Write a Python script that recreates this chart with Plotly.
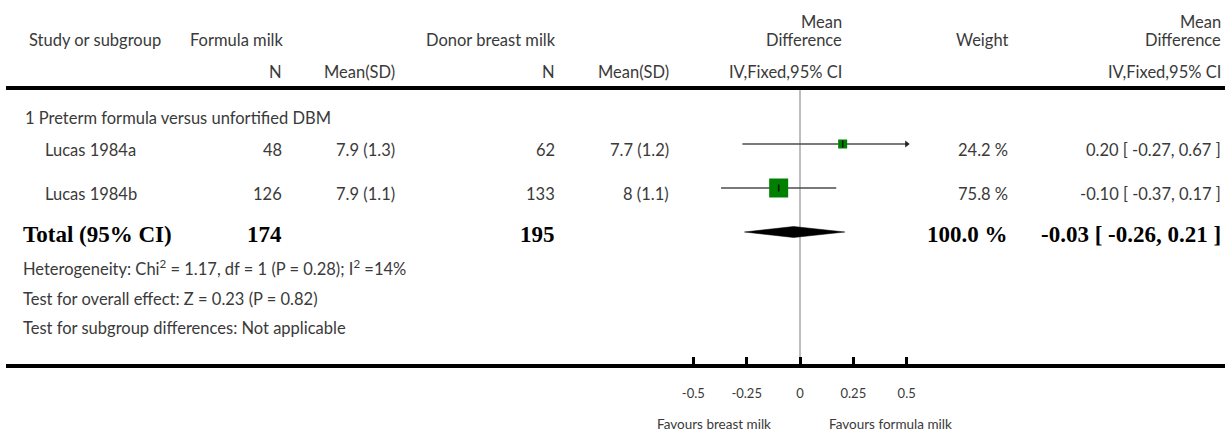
import plotly.graph_objects as go

# ---------------- data ----------------
studies = ["Lucas 1984a", "Lucas 1984b"]
formula_n = [48, 126]
formula_mean = [7.9, 7.9]
formula_sd = [1.3, 1.1]
donor_n = [62, 133]
donor_mean = [7.7, 8]
donor_sd = [1.2, 1.1]
md = [0.20, -0.10]
ci_lo = [-0.27, -0.37]
ci_hi = [0.67, 0.17]
weight = [24.2, 75.8]

total_formula_n = 174
total_donor_n = 195
total_md = -0.03
total_lo = -0.26
total_hi = 0.21
total_weight = 100.0

subgroup_label = "1 Preterm formula versus unfortified DBM"
heterogeneity = "Heterogeneity: Chi<sup>2</sup> = 1.17, df = 1 (P = 0.28); I<sup>2</sup> =14%"
overall_effect = "Test for overall effect: Z = 0.23 (P = 0.82)"
subgroup_diff = "Test for subgroup differences: Not applicable"

tick_vals = [-0.5, -0.25, 0, 0.25, 0.5]
tick_labels = ["-0.5", "-0.25", "0", "0.25", "0.5"]
axis_limit = 0.5
favours_left = "Favours breast milk"
favours_right = "Favours formula milk"

# ---------------- layout constants (pixels) ----------------
W, H = 1229, 432
K = 213.333          # px per unit of mean difference
X0 = 800             # pixel of zero
LINE_L, LINE_R = 6, 1225
AXIS_Y = 364
row_line_y = [144, 188]
row_text_y = [150, 194]
box_sizes = [9, 19]
TXT = "#3a3a3a"
SANS = "Lato"
SERIF = "Liberation Serif"
FS = 16.5
GREEN = "#008000"


def px(x):
    return x / W


def py(y):
    return (H - y) / H


fig = go.Figure()

# CI lines (clipped at axis limit) and arrows
for i in range(len(studies)):
    lo = max(ci_lo[i], -axis_limit)
    hi = min(ci_hi[i], axis_limit)
    fig.add_trace(go.Scatter(x=[lo, hi], y=[row_line_y[i]] * 2, mode="lines",
                             line=dict(color="#4d4d4d", width=1.6), hoverinfo="skip"))
    if ci_hi[i] > axis_limit:
        fig.add_trace(go.Scatter(x=[axis_limit], y=[row_line_y[i]], mode="markers",
                                 marker=dict(symbol="triangle-right", size=6, color="#222"),
                                 hoverinfo="skip"))
    if ci_lo[i] < -axis_limit:
        fig.add_trace(go.Scatter(x=[-axis_limit], y=[row_line_y[i]], mode="markers",
                                 marker=dict(symbol="triangle-left", size=6, color="#222"),
                                 hoverinfo="skip"))

# boxes
fig.add_trace(go.Scatter(x=md, y=row_line_y, mode="markers",
                         marker=dict(symbol="square", size=box_sizes, color=GREEN,
                                     opacity=1, line=dict(width=0)), hoverinfo="skip"))
fig.add_trace(go.Scatter(x=md, y=row_line_y, mode="markers",
                         marker=dict(symbol="line-ns-open", size=5, color="#111",
                                     opacity=1, line=dict(color="#111", width=1.5)),
                         hoverinfo="skip"))

# diamond
DY, DH = 232, 5.5
fig.add_trace(go.Scatter(x=[total_lo, total_md, total_hi, total_md, total_lo],
                         y=[DY, DY - DH, DY, DY + DH, DY], mode="lines", fill="toself",
                         fillcolor="black", line=dict(color="black", width=0.5),
                         hoverinfo="skip"))

shapes = [
    dict(type="line", xref="paper", yref="y", x0=px(LINE_L), x1=px(LINE_R), y0=88, y1=88,
         line=dict(color="black", width=4)),
    dict(type="line", xref="x", yref="y", x0=0, x1=0, y0=88, y1=AXIS_Y,
         line=dict(color="#a8a8a8", width=1.5), layer="below"),
]

ann = []


def T(text, x, y, anchor="left", size=FS, font=SANS, color=TXT, bold=False):
    if bold:
        text = "<b>" + text + "</b>"
    ann.append(dict(text=text, x=px(x), y=py(y), xref="paper", yref="paper", xanchor=anchor,
                    yanchor="middle", showarrow=False,
                    font=dict(family=font, size=size, color=color)))


# header
T("Study or subgroup", 27, 40)
T("Formula milk", 285, 40, "right")
T("Donor breast milk", 558, 40, "right")
T("Weight", 1010, 40, "right")
for xr in (844, 1223):
    T("Mean", xr, 22, "right")
    T("Difference", xr, 40, "right")
    T("IV,Fixed,95% CI", xr, 72, "right")
T("N", 284, 72, "right")
T("Mean(SD)", 397, 72, "right")
T("N", 557, 72, "right")
T("Mean(SD)", 671, 72, "right")

# subgroup + studies
T(subgroup_label, 23, 118)
for i, s in enumerate(studies):
    y = row_text_y[i]
    T(s, 43, y)
    T(f"{formula_n[i]}", 284, y, "right")
    T(f"{formula_mean[i]:g} ({formula_sd[i]:g})", 397, y, "right")
    T(f"{donor_n[i]}", 557, y, "right")
    T(f"{donor_mean[i]:g} ({donor_sd[i]:g})", 671, y, "right")
    T(f"{weight[i]:.1f} %", 1010, y, "right")
    T(f"{md[i]:.2f} [ {ci_lo[i]:.2f}, {ci_hi[i]:.2f} ]", 1223, y, "right")

# total
TY = 235
TS = 23
T("Total (95% CI)", 21, TY, size=TS, font=SERIF, color="black", bold=True)
T(f"{total_formula_n}", 284, TY, "right", size=TS, font=SERIF, color="black", bold=True)
T(f"{total_donor_n}", 557, TY, "right", size=TS, font=SERIF, color="black", bold=True)
T(f"{total_weight:.1f} %", 1010, TY, "right", size=TS, font=SERIF, color="black", bold=True)
T(f"{total_md:.2f} [ {total_lo:.2f}, {total_hi:.2f} ]", 1223, TY, "right", size=TS,
  font=SERIF, color="black", bold=True)

T(heterogeneity, 21, 268)
T(overall_effect, 21, 299)
T(subgroup_diff, 21, 328)

# favours labels
T(favours_left, 773, 424, "right", size=13.5)
T(favours_right, 827, 424, "left", size=13.5)

fig.update_layout(
    width=W, height=H, margin=dict(l=0, r=0, t=0, b=0),
    paper_bgcolor="white", plot_bgcolor="white", showlegend=False,
    shapes=shapes, annotations=ann,
    xaxis=dict(domain=[px(LINE_L), px(LINE_R)],
               range=[(LINE_L - X0) / K, (LINE_R - X0) / K],
               showgrid=False, zeroline=False, showline=True, linewidth=4, linecolor="black",
               ticks="inside", ticklen=7, tickwidth=3, tickcolor="black",
               tickvals=tick_vals, ticktext=tick_labels, ticklabelstandoff=14,
               tickfont=dict(family=SANS, size=13, color=TXT), fixedrange=True),
    yaxis=dict(domain=[(H - AXIS_Y) / H, 1], range=[AXIS_Y, 0], visible=False,
               showgrid=False, zeroline=False, fixedrange=True),
)

fig.write_html("out.html", config={"displayModeBar": False},
               post_script="document.body.style.margin='0';document.body.style.overflow='hidden';")
